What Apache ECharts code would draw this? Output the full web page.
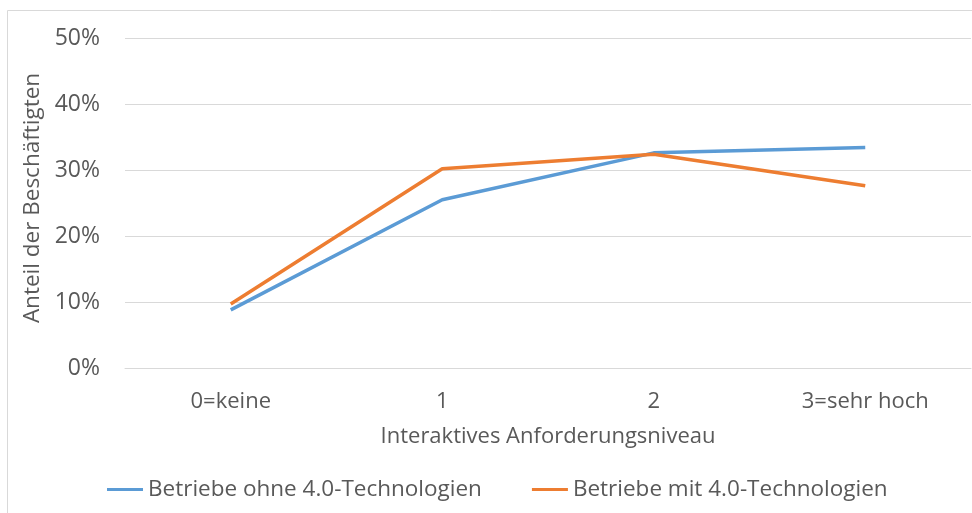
<!DOCTYPE html>
<html>
<head>
<meta charset="utf-8">
<script src="https://cdn.jsdelivr.net/npm/echarts@6/dist/echarts.min.js"></script>
<style>
  html, body { margin: 0; padding: 0; background: #fff; }
  #Chart { width: 972px; height: 513px; }
</style>
</head>
<body>
<div id="Chart"></div>
<script>
  // Anteil der Beschäftigten nach interaktivem Anforderungsniveau
  var categories = ['0=keine', '1', '2', '3=sehr hoch']
  var ohneTech = [8.8, 25.5, 32.6, 33.4]
  var mitTech = [9.7, 30.2, 32.4, 27.6]
  var seriesNames = ['Betriebe ohne 4.0-Technologien', 'Betriebe mit 4.0-Technologien']

  var textColor = '#595959'
  var font = 'Open Sans'

  var Chart = echarts.init(document.getElementById('Chart'))
  Chart.setOption({
    animation: false,
    textStyle: { fontFamily: font },
    graphic: [{
      type: 'rect',
      shape: { x: 7.5, y: 10.5, width: 1000, height: 600 },
      style: { fill: 'none', stroke: '#d9d9d9', lineWidth: 1 }
    }],
    grid: {
      left: 125,
      right: 1,
      top: 38,
      bottom: 145
    },
    legend: {
      top: 473,
      left: 102,
      icon: 'rect',
      itemWidth: 36,
      itemHeight: 3,
      itemGap: 50,
      textStyle: { color: textColor, fontSize: 22.5, fontFamily: font }
    },
    xAxis: {
      type: 'category',
      data: categories,
      boundaryGap: true,
      name: 'Interaktives Anforderungsniveau',
      nameLocation: 'middle',
      nameGap: 58,
      nameTextStyle: { color: textColor, fontSize: 22, fontFamily: font },
      axisLine: { lineStyle: { color: '#d9d9d9', width: 1 } },
      axisTick: { show: false },
      axisLabel: { color: textColor, fontSize: 22, margin: 23, fontFamily: font }
    },
    yAxis: {
      type: 'value',
      min: 0,
      max: 50,
      interval: 10,
      name: 'Anteil der Beschäftigten',
      nameLocation: 'middle',
      nameGap: 76,
      nameTextStyle: { color: textColor, fontSize: 22.5, fontFamily: font, padding: [0, 0, 0, 10] },
      axisLabel: {
        color: textColor,
        fontSize: 23,
        margin: 25,
        fontFamily: font,
        formatter: '{value}%'
      },
      splitLine: { lineStyle: { color: '#d9d9d9', width: 1 } }
    },
    series: [{
      name: seriesNames[0],
      type: 'line',
      data: ohneTech,
      symbol: 'none',
      lineStyle: { color: '#5B9BD5', width: 3.5 },
      itemStyle: { color: '#5B9BD5' }
    }, {
      name: seriesNames[1],
      type: 'line',
      data: mitTech,
      symbol: 'none',
      lineStyle: { color: '#ED7D31', width: 3.5 },
      itemStyle: { color: '#ED7D31' }
    }]
  })
</script>
</body>
</html>
